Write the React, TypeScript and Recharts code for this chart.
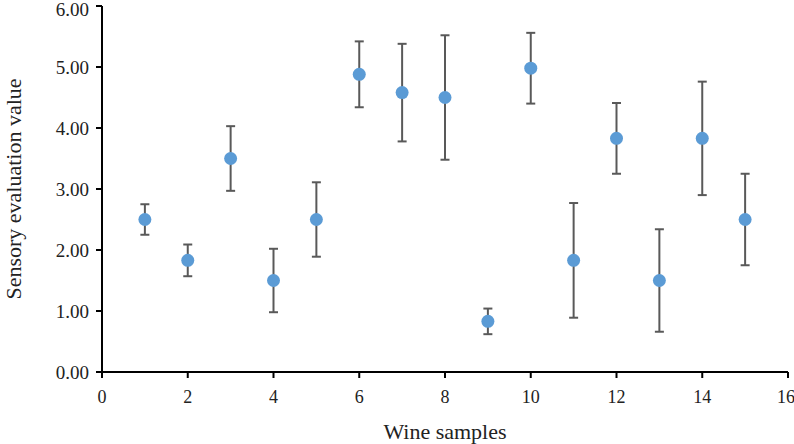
import { ScatterChart, Scatter, XAxis, YAxis, ErrorBar, Label } from 'recharts';

const samples = [1, 2, 3, 4, 5, 6, 7, 8, 9, 10, 11, 12, 13, 14, 15];
const means = [2.5, 1.83, 3.5, 1.5, 2.5, 4.88, 4.58, 4.5, 0.83, 4.98, 1.83, 3.83, 1.5, 3.83, 2.5];
const errors = [0.25, 0.26, 0.53, 0.52, 0.61, 0.54, 0.8, 1.02, 0.21, 0.58, 0.94, 0.58, 0.84, 0.93, 0.75];
const xTicks = [0, 2, 4, 6, 8, 10, 12, 14, 16];
const yTicks = [0, 1, 2, 3, 4, 5, 6];

const data = samples.map((s, i) => ({ sample: s, value: means[i], err: errors[i] }));

const font = '"Liberation Serif", "Times New Roman", serif';

const renderXTick = (p: any) => (
  <text key={`x-${p.index}`} x={p.x} y={p.y + 23} textAnchor="middle"
    style={{ fontFamily: font, fontSize: 18, fill: '#222' }}>
    {p.payload.value}
  </text>
);

const renderYTick = (p: any) => (
  <text key={`y-${p.index}`} x={p.x - 5} y={p.y + 6.5} textAnchor="end"
    style={{ fontFamily: font, fontSize: 19, fill: '#222' }}>
    {Number(p.payload.value).toFixed(2)}
  </text>
);

export default function App() {
  return (
    <div style={{ position: 'absolute', left: 0, top: 0, background: '#fff', fontFamily: font }}>
      <ScatterChart width={794} height={444} margin={{ top: 6, right: 6, bottom: 0, left: 0 }}>
        <XAxis
          type="number"
          dataKey="sample"
          domain={[0, 16]}
          ticks={xTicks}
          height={72}
          stroke="#000"
          strokeWidth={2}
          tickSize={6}
          tick={renderXTick}
          tickLine={{ stroke: '#000', strokeWidth: 2 }}
        >
          <Label
            value="Wine samples"
            position="insideBottom"
            offset={5}
            style={{ fill: '#222', fontSize: 22, fontFamily: font }}
          />
        </XAxis>
        <YAxis
          type="number"
          dataKey="value"
          domain={[0, 6]}
          ticks={yTicks}
          width={102}
          stroke="#000"
          strokeWidth={2}
          tickSize={6}
          tick={renderYTick}
          tickLine={{ stroke: '#000', strokeWidth: 2 }}
        >
          <Label
            value="Sensory evaluation value"
            angle={-90}
            position="insideLeft"
            offset={13}
            style={{ textAnchor: 'middle', fill: '#222', fontSize: 22, fontFamily: font }}
          />
        </YAxis>
        <Scatter data={data} fill="#5B9BD5" isAnimationActive={false} shape={(p: any) => (
          <circle cx={p.cx} cy={p.cy} r={6.5} fill="#5B9BD5" />
        )}>
          <ErrorBar dataKey="err" direction="y" width={4.5} stroke="#595959" strokeWidth={2} />
        </Scatter>
      </ScatterChart>
    </div>
  );
}
